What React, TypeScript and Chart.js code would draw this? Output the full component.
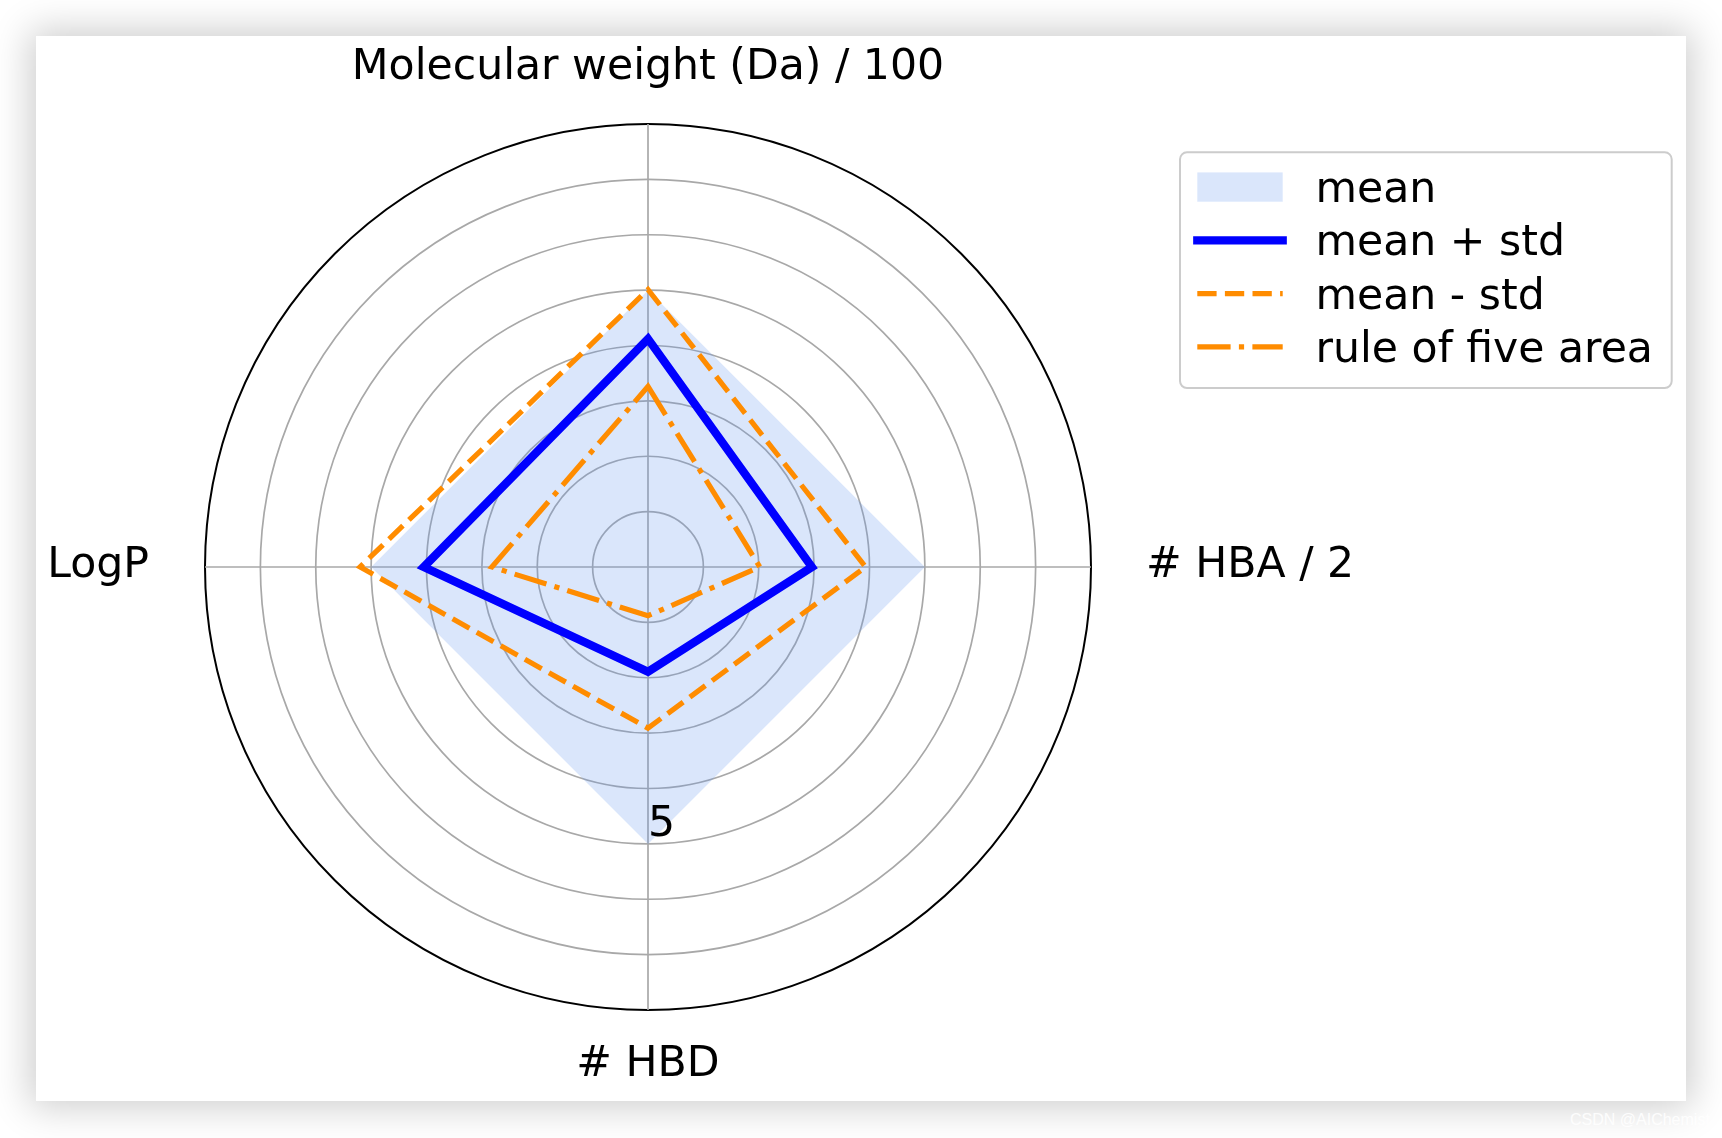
import React, { useEffect, useRef } from 'react';
import { Chart, registerables } from 'chart.js';

Chart.register(...registerables);

// ---- data ----
const categories = ['Molecular weight (Da) / 100', '# HBA / 2', '# HBD', 'LogP'];
const seriesLabels = ['mean', 'mean + std', 'mean - std', 'rule of five area'];
const meanValues = [5, 5, 5, 5];
const meanPlusStd = [4.12, 2.96, 1.89, 4.05];
const meanMinusStd = [5.01, 3.93, 2.91, 5.2];
const ruleOfFive = [3.26, 2.02, 0.88, 2.82];
const radialTickValues = [5];
const radialTickLabels = ['5'];
const rMin = 0;
const rMax = 8;
const rStep = 1;

const FONT = '42.6px "DejaVu Sans"';

function roundRectPath(ctx: CanvasRenderingContext2D, x: number, y: number, w: number, h: number, r: number) {
  ctx.beginPath();
  ctx.moveTo(x + r, y);
  ctx.lineTo(x + w - r, y);
  ctx.arcTo(x + w, y, x + w, y + r, r);
  ctx.lineTo(x + w, y + h - r);
  ctx.arcTo(x + w, y + h, x + w - r, y + h, r);
  ctx.lineTo(x + r, y + h);
  ctx.arcTo(x, y + h, x, y + h - r, r);
  ctx.lineTo(x, y + r);
  ctx.arcTo(x, y, x + r, y, r);
  ctx.closePath();
}

const decorPlugin = {
  id: 'decor',
  afterDraw(chart: any) {
    const scale = chart.scales.r;
    const ctx: CanvasRenderingContext2D = chart.ctx;
    const R = scale.drawingArea;
    ctx.save();
    ctx.font = FONT;
    ctx.fillStyle = '#000';
    ctx.textBaseline = 'alphabetic';

    // point labels
    const specs = [
      { pad: 45, align: 'center', dy: 0 },
      { pad: 55, align: 'left', dy: 10 },
      { pad: 66, align: 'center', dy: 0 },
      { pad: 56, align: 'right', dy: 10 },
    ];
    (chart.data.labels as string[]).forEach((lab, i) => {
      const s = specs[i];
      const p = scale.getPointPosition(i, R + s.pad);
      ctx.textAlign = s.align as CanvasTextAlign;
      ctx.fillText(lab, p.x, p.y + s.dy);
    });

    // radial tick label
    radialTickValues.forEach((v, k) => {
      const p = scale.getPointPosition(2, scale.getDistanceFromCenterForValue(v));
      ctx.textAlign = 'left';
      ctx.fillText(radialTickLabels[k], p.x, p.y - 8);
    });

    // legend
    const bx = 1144, by = 116.3, bw = 491.7, bh = 235.7;
    roundRectPath(ctx, bx, by, bw, bh, 7);
    ctx.fillStyle = 'rgba(255,255,255,0.8)';
    ctx.fill();
    ctx.lineWidth = 2;
    ctx.strokeStyle = '#cccccc';
    ctx.stroke();

    const x0 = 1161.3;
    const hl = 85.4;
    const textX = 1279.5;
    const ds = chart.data.datasets;
    ds.forEach((d: any, i: number) => {
      const base = 166 + i * 53.3;
      const cy = base - 15;
      if (i === 0) {
        ctx.fillStyle = d.backgroundColor;
        ctx.fillRect(x0, cy - 14.6, hl, 29.3);
      } else {
        ctx.save();
        ctx.beginPath();
        ctx.strokeStyle = d.borderColor;
        ctx.lineWidth = d.borderWidth;
        ctx.setLineDash(d.borderDash || []);
        ctx.lineCap = d.borderDash ? 'butt' : 'square';
        ctx.moveTo(x0, cy);
        ctx.lineTo(x0 + hl, cy);
        ctx.stroke();
        ctx.restore();
      }
      ctx.fillStyle = '#000';
      ctx.textAlign = 'left';
      ctx.fillText(d.label, textX, base);
    });
    ctx.restore();
  },
};

export default function App() {
  const ref = useRef<HTMLCanvasElement | null>(null);

  useEffect(() => {
    if (!ref.current) return;
    const chart = new Chart(ref.current, {
      type: 'radar',
      data: {
        labels: categories,
        datasets: [
          {
            label: seriesLabels[0],
            data: meanValues,
            fill: 'origin',
            backgroundColor: 'rgba(100,149,237,0.24)',
            borderColor: 'rgba(0,0,0,0)',
            borderWidth: 0,
            order: 4,
          },
          {
            label: seriesLabels[1],
            data: meanPlusStd,
            fill: false,
            borderColor: '#0000ff',
            borderWidth: 8.3,
            borderJoinStyle: 'miter',
            order: 1,
          },
          {
            label: seriesLabels[2],
            data: meanMinusStd,
            fill: false,
            borderColor: '#ff8c00',
            borderWidth: 5.2,
            borderDash: [19.3, 8.3],
            borderJoinStyle: 'miter',
            order: 2,
          },
          {
            label: seriesLabels[3],
            data: ruleOfFive,
            fill: false,
            borderColor: '#ff8c00',
            borderWidth: 5.2,
            borderDash: [33.3, 8.3, 5.2, 8.3],
            borderJoinStyle: 'miter',
            order: 3,
          },
        ] as any,
      },
      options: {
        responsive: false,
        maintainAspectRatio: false,
        animation: false,
        events: [],
        layout: { padding: { left: 169, right: 595, top: 88, bottom: 91 } },
        plugins: { legend: { display: false }, tooltip: { enabled: false } },
        elements: {
          line: { tension: 0 },
          point: { radius: 0, hoverRadius: 0 },
        },
        scales: {
          r: {
            min: rMin,
            max: rMax,
            ticks: { display: false, stepSize: rStep },
            grid: {
              circular: true,
              color: (c: any) => (c.tick && c.tick.value === rMax ? '#000000' : '#a8a8a8'),
              lineWidth: (c: any) => (c.tick && c.tick.value === rMax ? 2 : 1.7),
            },
            angleLines: { color: '#a8a8a8', lineWidth: 1.7 },
            pointLabels: { display: false },
          },
        },
      } as any,
      plugins: [decorPlugin],
    });
    return () => chart.destroy();
  }, []);

  return (
    <div style={{ position: 'absolute', left: 0, top: 0, width: 1722, height: 1138, background: '#ffffff', overflow: 'hidden' }}>
      <div
        style={{
          position: 'absolute',
          left: 36,
          top: 36,
          width: 1650,
          height: 1065,
          background: '#ffffff',
          boxShadow: '0 0 36px 6px rgba(0,0,0,0.2)',
        }}
      >
        <canvas ref={ref} width={1650} height={1065} style={{ display: 'block' }} />
      </div>
      <div
        style={{
          position: 'absolute',
          left: 1570,
          top: 1111,
          font: '16px "Liberation Sans", Arial, sans-serif',
          color: 'rgba(255,255,255,0.9)',
          whiteSpace: 'nowrap',
        }}
      >
        CSDN @AIChemist
      </div>
    </div>
  );
}
